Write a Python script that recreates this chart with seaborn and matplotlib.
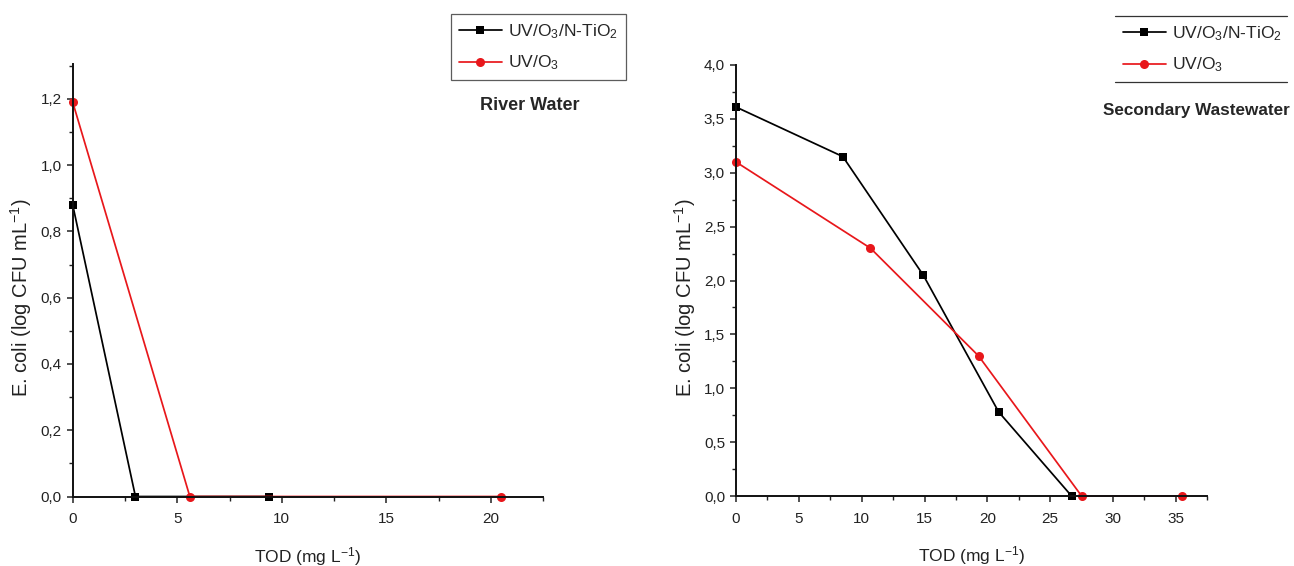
import matplotlib
matplotlib.use("Agg")
import matplotlib.pyplot as plt
from matplotlib import font_manager
from matplotlib.ticker import MultipleLocator, FuncFormatter
from matplotlib.lines import Line2D
import pandas as pd
import seaborn as sns

# --- data -------------------------------------------------------------
series_names = [r"UV/O$_3$/N-TiO$_2$", r"UV/O$_3$"]
series_colors = ["black", "#e8171b"]
series_markers = ["s", "o"]

# River water
river_tod_ntio2 = [0.0, 3.0, 9.4]
river_ecoli_ntio2 = [0.88, 0.0, 0.0]
river_tod_o3 = [0.0, 5.6, 20.5]
river_ecoli_o3 = [1.19, 0.0, 0.0]

# Secondary wastewater
ww_tod_ntio2 = [0.0, 8.5, 14.9, 20.9, 26.7]
ww_ecoli_ntio2 = [3.61, 3.15, 2.05, 0.78, 0.0]
ww_tod_o3 = [0.0, 10.7, 19.3, 27.5, 35.5]
ww_ecoli_o3 = [3.10, 2.30, 1.30, 0.0, 0.0]

panel_titles = ["River Water", "Secondary Wastewater"]
x_label = r"TOD (mg L$^{-1}$)"
y_label = r"E. coli (log CFU mL$^{-1}$)"

# --- fonts ------------------------------------------------------------
sns.set_style("ticks")
available = {f.name for f in font_manager.fontManager.ttflist}
narrow = "Liberation Sans Narrow" if "Liberation Sans Narrow" in available else "Liberation Sans"
plt.rcParams["font.family"] = [narrow, "DejaVu Sans"]
plt.rcParams["mathtext.fontset"] = "custom"
plt.rcParams["mathtext.rm"] = narrow
plt.rcParams["mathtext.it"] = narrow + ":italic"
plt.rcParams["mathtext.bf"] = narrow + ":bold"


def make_frame(tod_a, ecoli_a, tod_b, ecoli_b):
    return pd.DataFrame({
        "TOD": list(tod_a) + list(tod_b),
        "ecoli": list(ecoli_a) + list(ecoli_b),
        "process": [series_names[0]] * len(tod_a) + [series_names[1]] * len(tod_b),
    })


frames = [
    make_frame(river_tod_ntio2, river_ecoli_ntio2, river_tod_o3, river_ecoli_o3),
    make_frame(ww_tod_ntio2, ww_ecoli_ntio2, ww_tod_o3, ww_ecoli_o3),
]

fig = plt.figure(figsize=(12.94, 5.66), dpi=100)
ax_rects = [
    [72.7 / 1294, (566 - 496.5) / 566, 470.6 / 1294, 432.5 / 566],
    [736 / 1294, (566 - 496) / 566, 471.3 / 1294, 431 / 566],
]
xlims = [(0, 22.5), (0, 37.5)]
ylims = [(0, 1.305), (0, 4.0)]
ymajor = [0.2, 0.5]
yminor = [0.1, 0.25]
ylabel_x = [-(72.7 - 34) / 470.6, -(736 - 698) / 471.3]

int_fmt = FuncFormatter(lambda v, p: f"{v:.0f}")
comma_y = FuncFormatter(lambda v, p: f"{v:.1f}".replace(".", ","))

axes = []
for i, df in enumerate(frames):
    ax = fig.add_axes(ax_rects[i])
    sns.lineplot(
        data=df, x="TOD", y="ecoli", hue="process", style="process",
        hue_order=series_names, style_order=series_names,
        palette=dict(zip(series_names, series_colors)),
        markers=dict(zip(series_names, series_markers)),
        dashes=False, sort=False, estimator=None, legend=False,
        linewidth=1.25, markersize=6, markeredgewidth=0, ax=ax, clip_on=False,
    )
    for ln, mk in zip(ax.get_lines(), series_markers):
        ln.set_markersize(6.5 if mk == "o" else 5.9)
    ax.set_xlim(*xlims[i])
    ax.set_ylim(*ylims[i])
    ax.xaxis.set_major_locator(MultipleLocator(5))
    ax.xaxis.set_minor_locator(MultipleLocator(2.5))
    ax.yaxis.set_major_locator(MultipleLocator(ymajor[i]))
    ax.yaxis.set_minor_locator(MultipleLocator(yminor[i]))
    ax.xaxis.set_major_formatter(int_fmt)
    ax.yaxis.set_major_formatter(comma_y)
    ax.tick_params(which="major", direction="out", length=4.5, width=1.1,
                   labelsize=11, colors="#222222")
    ax.tick_params(which="minor", direction="out", length=2.7, width=1.0, colors="#222222")
    ax.tick_params(axis="x", which="major", pad=7)
    ax.tick_params(axis="y", which="major", pad=3.4)
    for s in ("top", "right"):
        ax.spines[s].set_visible(False)
    for s in ("left", "bottom"):
        ax.spines[s].set_linewidth(1.4)
        ax.spines[s].set_color("#111111")
    ax.set_xlabel(x_label, fontsize=12.5, color="#222222", va="top")
    ax.set_ylabel(y_label, fontsize=14.5, color="#222222",
                  family=["Liberation Sans", "DejaVu Sans"])
    ax.xaxis.set_label_coords(0.5, -0.112)
    ax.yaxis.set_label_coords(ylabel_x[i], 0.46)
    axes.append(ax)

# legends
legend_kw = dict(fontsize=12.6, handlelength=2.45, handletextpad=0.35, labelspacing=0.75,
                 borderaxespad=0, borderpad=0.45, fancybox=False, loc="upper left")
leg1 = axes[0].legend(axes[0].get_lines(), series_names,
                      bbox_to_anchor=(451 / 1294, 1 - 14 / 566),
                      bbox_transform=fig.transFigure, frameon=True, **legend_kw)
leg1.get_frame().set_edgecolor("#333333")
leg1.get_frame().set_linewidth(0.9)

leg2 = axes[1].legend(axes[1].get_lines(), series_names,
                      bbox_to_anchor=(1115 / 1294, 1 - 16 / 566),
                      bbox_transform=fig.transFigure, frameon=False, **legend_kw)

# rules above and below the second legend
fig.canvas.draw()
bb = leg2.get_window_extent().transformed(fig.transFigure.inverted())
for yy in (bb.y0, bb.y1):
    fig.add_artist(Line2D([bb.x0, 1287 / 1294], [yy, yy], transform=fig.transFigure,
                          color="#333333", linewidth=0.9))

fig.text(530 / 1294, 1 - 105 / 566, panel_titles[0], ha="center", va="center",
         fontsize=13, fontweight="bold")
fig.text(1196 / 1294, 1 - 110 / 566, panel_titles[1], ha="center", va="center",
         fontsize=12.3, fontweight="bold")

fig.savefig("out.png", dpi=100, facecolor="white")
